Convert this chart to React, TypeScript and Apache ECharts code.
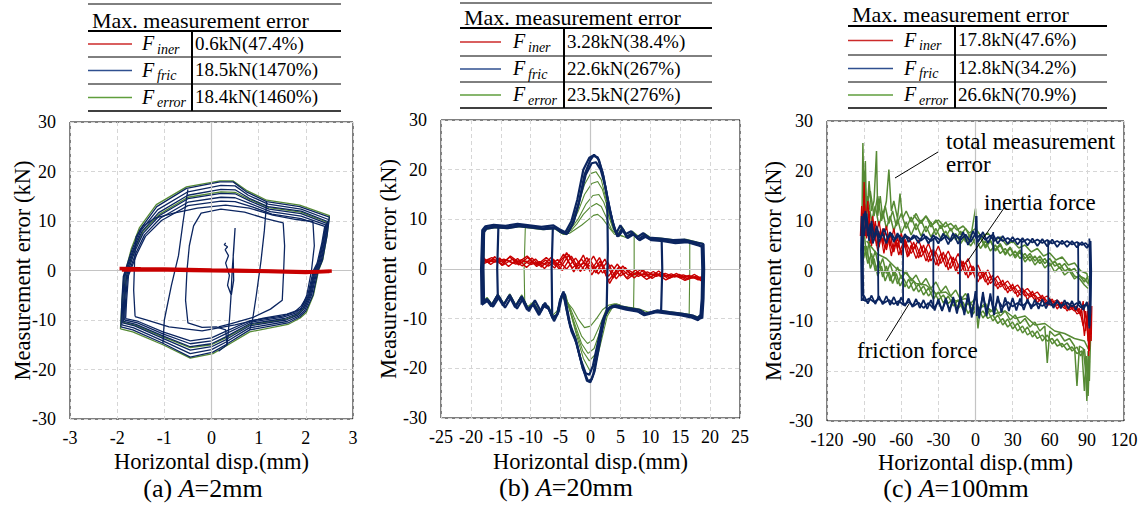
import React, { useEffect, useRef } from 'react';
import * as echarts from 'echarts';

const FONT = 'Liberation Serif';
const BLUE = '#0b2560';
const GREEN = '#568a34';
const RED = '#c80000';

// ---------------- Panel (a) A=2mm ----------------
const aFric1 = [[-1.92,-11.4],[-1.9,-6],[-1.87,-1.2],[-1.69,4.1],[-1.52,8.2],[-1.16,12.9],[-0.53,16.6],[0.18,17.9],[0.46,17.9],[0.74,15.9],[1.17,13.9],[1.87,12.9],[2.5,10.8],[2.45,7],[2.35,2],[2.26,0],[2.15,-5],[2.0,-8.2],[1.87,-9.4],[1.62,-10.6],[0.81,-12],[0.3,-15],[0.03,-16.5],[-0.45,-17.5],[-1.03,-14.7],[-1.67,-12],[-1.92,-11.4]];
const aFric2 = [[-1.9,-11],[-1.88,-6],[-1.85,-1],[-1.67,4],[-1.5,8],[-1.14,12.3],[-0.5,15.9],[0.2,17.2],[0.5,17.1],[0.78,15.2],[1.2,13.4],[1.9,12.4],[2.48,10.3],[2.42,6.5],[2.32,1.5],[2.24,0],[2.12,-5],[1.98,-8],[1.85,-9.2],[1.6,-10.3],[0.8,-11.6],[0.3,-14.5],[0,-16],[-0.45,-16.8],[-1.03,-14.2],[-1.65,-11.6],[-1.9,-11]];
const aFric3 = [[-1.88,-10.6],[-1.86,-6],[-1.83,-1],[-1.65,4],[-1.48,7.8],[-1.12,11.7],[-0.5,15.2],[0.2,16.4],[0.5,16.3],[0.8,14.6],[1.2,12.9],[1.9,12],[2.46,9.9],[2.4,6],[2.3,1.5],[2.22,0],[2.1,-5],[1.96,-7.8],[1.83,-9],[1.58,-10],[0.8,-11.2],[0.3,-14],[0,-15.4],[-0.45,-16.1],[-1.03,-13.7],[-1.63,-11.2],[-1.88,-10.6]];
const aFric4 = [[-1.86,-10.3],[-1.84,-6],[-1.8,-1],[-1.63,3.8],[-1.45,7.5],[-1.1,11.1],[-0.5,14.5],[0.2,15.6],[0.5,15.5],[0.82,14],[1.22,12.4],[1.9,11.5],[2.44,9.5],[2.38,6],[2.28,1.5],[2.2,0],[2.08,-5],[1.94,-7.6],[1.8,-8.8],[1.55,-9.7],[0.8,-10.8],[0.3,-13.4],[0,-14.8],[-0.45,-15.4],[-1.03,-13.2],[-1.6,-10.9],[-1.86,-10.3]];
const aFric5 = [[-1.84,-10],[-1.82,-6],[-1.78,-1],[-1.6,3.6],[-1.42,7.2],[-1.08,10.6],[-0.5,13.8],[0.2,14.8],[0.5,14.7],[0.85,13.4],[1.25,11.9],[1.9,11],[2.42,9.2],[2.36,5.8],[2.26,1.5],[2.18,0],[2.06,-5],[1.92,-7.4],[1.78,-8.6],[1.52,-9.4],[0.8,-10.5],[0.3,-12.8],[0,-14.2],[-0.45,-14.8],[-1.03,-12.8],[-1.57,-10.6],[-1.84,-10]];
const aFric6 = [[-1.82,-9.7],[-1.8,-6],[-1.76,-1],[-1.58,3.4],[-1.4,6.9],[-1.06,10.1],[-0.5,13.1],[0.2,14],[0.5,13.9],[0.88,12.8],[1.28,11.4],[1.9,10.5],[2.4,8.9],[2.34,5.6],[2.24,1.5],[2.16,0],[2.04,-5],[1.9,-7.2],[1.76,-8.4],[1.5,-9.2],[0.8,-10.2],[0.3,-12.3],[0,-13.6],[-0.45,-14.2],[-1.03,-12.4],[-1.55,-10.3],[-1.82,-9.7]];
const aFricInner1 = [[0.33,-15],[0.3,-12],[0.1,-11.4],[-0.2,-11.5],[-0.5,-10.6],[-0.55,-6],[-0.52,0],[-0.47,5],[-0.38,9],[-0.22,11.6],[0.2,12.4],[0.7,11.8],[1.15,10.5],[1.52,9.6],[1.55,5],[1.53,0],[1.5,-6],[1.25,-7.8],[0.9,-9.4],[0.4,-10.8],[0.15,-11.4]];
const aFricInner2 = [[-1.62,-9.3],[-1.65,-4],[-1.63,2],[-1.6,6.8],[-1.45,9],[-1.2,10.6],[-0.8,11.6],[-0.3,12.6],[0.3,13.2],[0.8,12.6],[1.3,11.2],[1.8,10.3],[2.15,9.9],[2.18,5],[2.12,0],[2.02,-5],[1.9,-7.8],[1.6,-8.8],[1.1,-9.6],[0.5,-11],[-0.2,-12.2],[-0.9,-11.4],[-1.4,-9.9],[-1.62,-9.3]];
const aFricStart = [[0.3,5.6],[0.27,5.2],[0.34,4.8],[0.29,4.2],[0.36,3],[0.3,1.5],[0.38,-1],[0.34,-3],[0.42,-5],[0.47,-2],[0.46,3],[0.5,8.6],[0.47,4],[0.44,0.3],[0.41,-5.7],[0.38,-10],[0.33,-15],[0.15,-16.3]];
const aFricRev1 = [[-1.03,-14.7],[-1.0,-10],[-0.85,-3],[-0.7,3],[-0.6,10],[-0.5,16.4]];
const aFricRev2 = [[1.17,13.9],[1.12,8],[1.05,2],[0.95,-5],[0.87,-10],[0.81,-12]];
const aErr1 = [[-1.93,-11.8],[-1.9,-6.5],[-1.86,-1.5],[-1.7,4.4],[-1.53,8.6],[-1.17,13.3],[-0.53,16.9],[0.18,18.1],[0.46,18.1],[0.74,16.2],[1.17,14.2],[1.87,13.2],[2.5,11.1],[2.45,7.2],[2.36,2.2],[2.27,0],[2.16,-5],[2.01,-8.5],[1.88,-9.6],[1.62,-10.9],[0.81,-12.4],[0.3,-15.3],[0.03,-16.8],[-0.45,-17.7],[-1.03,-15],[-1.67,-12.4],[-1.93,-11.8]];
const aErr2 = [[-1.87,-10.5],[-1.85,-6],[-1.81,-0.8],[-1.64,4.1],[-1.46,7.8],[-1.1,11.4],[-0.5,14.8],[0.2,15.9],[0.5,15.8],[0.82,14.3],[1.22,12.7],[1.9,11.8],[2.44,9.8],[2.38,6.2],[2.28,1.8],[2.2,0.2],[2.08,-4.8],[1.94,-7.8],[1.8,-9],[1.55,-9.9],[0.8,-11],[0.3,-13.6],[0,-15],[-0.45,-15.6],[-1.03,-13.4],[-1.6,-11.1],[-1.87,-10.5]];
const aIner1 = [[-1.95,0.4],[-1.5,0.35],[-1.0,0.3],[-0.5,0.2],[0,0.1],[0.5,0.05],[1.0,-0.05],[1.5,-0.15],[2.0,-0.25],[2.5,-0.2]];
const aIner2 = [[-1.9,0.1],[-1.2,0.15],[-0.4,0.0],[0.4,-0.1],[1.2,-0.2],[2.0,-0.4],[2.55,-0.1]];

const aFricLines = [aFric1, aFric2, aFric3, aFric4, aFric5, aFric6, aFricInner1, aFricInner2, aFricStart, aFricRev1, aFricRev2];
const aErrLines = [aErr1, aErr2];
const aInerLines = [aIner1, aIner2];

// ---------------- Panel (b) A=20mm ----------------
const bFric1 = [[-18,-7],[-18.1,0],[-17.9,7.5],[-17.5,8.3],[-16,8.6],[-14,8.4],[-12,8.8],[-10,8.5],[-8,8.2],[-6,8.4],[-5,7.5],[-4,7],[-3,9],[-2,13],[-1,19],[0,22],[0.6,23],[1.4,22],[2.2,18.5],[3,13],[3.8,9],[4.5,6.5],[5.3,8.2],[6,6.5],[7,7.2],[8,6],[9,6.8],[10,6],[12,5.8],[14,5.4],[16,5.6],[18,4.9],[18.7,4.6],[18.8,0],[18.7,-6],[18.5,-9.5],[18,-10.3],[17,-9.8],[15,-9.3],[13,-9],[11,-8.7],[9,-9.3],[8,-8.6],[6,-8.2],[4,-7.6],[3,-8],[2.2,-10],[1.4,-15],[0.5,-21],[0,-22.8],[-0.6,-22.5],[-1.5,-19],[-2.5,-14],[-3.4,-11.6],[-4.1,-7.5],[-4.5,-4.5],[-5,-6],[-5.5,-9],[-6.3,-10],[-7,-8],[-7.8,-7.5],[-8.5,-9],[-9.5,-7],[-10.5,-8],[-11.5,-5.5],[-12.5,-7.5],[-13.5,-5.2],[-14.5,-7.2],[-15.5,-5.2],[-16.5,-7.3],[-17.3,-6],[-18,-7]];
const bFric2 = [[-18.2,-7.2],[-18.3,0],[-18.1,7.8],[-17.6,8.6],[-16.2,8.9],[-14.2,8.7],[-12.2,9.1],[-10.2,8.8],[-8.2,8.5],[-6.2,8.8],[-5.2,8],[-4.2,7.4],[-3.2,9.6],[-2.2,14],[-1.2,20],[-0.2,22.4],[0.4,22.8],[1.2,22.5],[2,19.5],[2.8,14.5],[3.6,10],[4.3,7.2],[5,8.8],[5.8,7],[6.8,7.6],[7.8,6.4],[8.8,7.2],[9.8,6.3],[11.8,6.1],[13.8,5.8],[15.8,5.9],[17.8,5.3],[18.9,5],[19,0],[18.9,-6],[18.7,-9.8],[18.2,-10],[17.2,-9.4],[15.2,-9],[13.2,-8.7],[11.2,-8.3],[9.2,-9],[8.2,-8.2],[6.2,-7.8],[4.2,-7.3],[3.2,-7.7],[2.4,-9.5],[1.6,-14.5],[0.7,-20.5],[0.2,-22.2],[-0.4,-22.6],[-1.3,-20],[-2.3,-15],[-3.2,-12.5],[-3.9,-8],[-4.3,-5],[-4.8,-5.5],[-5.3,-8.5],[-6.1,-10.5],[-6.8,-8.5],[-7.6,-6.8],[-8.3,-8.5],[-9.3,-6.3],[-10.3,-8.5],[-11.3,-6],[-12.3,-8],[-13.3,-5.8],[-14.3,-7.8],[-15.3,-5.6],[-16.3,-7.6],[-17.1,-6.3],[-18.2,-7.2]];
const bFric3 = [[-17.8,-6.6],[-17.9,0],[-17.8,7.4],[-17.4,8.1],[-15.8,8.4],[-13.8,8.2],[-11.8,8.6],[-9.8,8.3],[-7.8,8],[-5.8,8.2],[-4.8,7.3],[-3.8,7.2],[-2.8,9.5],[-1.8,14],[-0.8,19],[0.2,21.3],[0.9,21.5],[1.7,20],[2.5,16.5],[3.3,11.5],[4,8],[4.7,6.6],[5.5,7.9],[6.2,6.2],[7.2,7],[8.2,5.8],[9.2,6.5],[10.2,5.8],[12.2,5.6],[14.2,5.2],[16.2,5.4],[18.2,4.7],[18.6,4.4],[18.7,0],[18.6,-6],[18.4,-9.2],[17.8,-10],[16.8,-9.6],[14.8,-9.1],[12.8,-8.8],[10.8,-8.5],[8.8,-9.1],[7.8,-8.4],[5.8,-8],[3.8,-7.4],[2.8,-8.2],[2,-10.5],[1.2,-15],[0.4,-19.5],[-0.2,-21.3],[-0.8,-21],[-1.7,-18],[-2.7,-13.5],[-3.6,-10.5],[-4.2,-7],[-4.6,-4.8],[-5.1,-6.3],[-5.6,-9.3],[-6.4,-9.6],[-7.1,-7.6],[-7.9,-7.2],[-8.6,-9.3],[-9.6,-7.2],[-10.6,-8.2],[-11.6,-5.7],[-12.6,-7.7],[-13.6,-5.4],[-14.6,-7.4],[-15.6,-5.4],[-16.6,-7.5],[-17.4,-6.2],[-17.8,-6.6]];
const bFricRev1 = [[-15.5,-5.4],[-15.6,0],[-15.4,8.6]];
const bFricRev2 = [[-6.4,-9.8],[-6.5,0],[-6.3,8.2]];
const bFricRev3 = [[2.8,13.5],[2.9,4],[2.8,-2],[2.7,-8.5]];
const bFricRev4 = [[11.9,5.8],[12,0],[11.8,-8.8]];

const bErrTop1 = [[-5.5,7.8],[-4.5,7],[-3.5,7.2],[-2.5,8],[-1.5,8.8],[-0.5,9.8],[0.5,10.8],[1.2,11],[2,10.2],[3,8.5],[4,7],[5,6.8],[6,6.3]];
const bErrTop2 = [[-5.5,7.8],[-4.5,7],[-3.2,7.8],[-2.2,9.2],[-1.2,11],[0,12.5],[1,13.2],[1.8,12.6],[2.6,10.5],[3.5,8],[4.5,6.8],[5.5,6.6]];
const bErrTop3 = [[-4.5,7],[-3.2,8.2],[-2,10.2],[-0.8,13],[0.4,14.8],[1.4,15],[2.2,13.5],[3,10.8],[3.8,8],[4.8,6.5]];
const bErrTop4 = [[-4.5,7],[-3.3,8.5],[-2.1,11.5],[-1,15],[0.2,17.2],[1.2,17.6],[2,16],[2.8,12.5],[3.6,9],[4.5,6.8]];
const bErrTop5 = [[-4.5,7],[-3.4,8.8],[-2.2,12.5],[-1,17],[0,19.2],[0.9,19.6],[1.8,18],[2.6,14],[3.4,10],[4.3,7]];
const bErrBot1 = [[-5,-5.5],[-4,-6.5],[-3,-8],[-2,-10.2],[-1,-11.8],[0,-11.5],[1,-10],[2,-8.2],[3,-7.3],[4,-7],[5,-7.2]];
const bErrBot2 = [[-4.5,-5],[-3.5,-7.5],[-2.5,-10.5],[-1.5,-13.5],[-0.5,-15],[0.5,-14.2],[1.5,-11.5],[2.5,-8.5],[3.5,-7.3],[4.5,-7]];
const bErrBot3 = [[-4.4,-5],[-3.5,-8],[-2.5,-11.5],[-1.5,-15],[-0.4,-17],[0.6,-16],[1.6,-12.5],[2.6,-9],[3.6,-7.5]];
const bErrBot4 = [[-4.3,-5],[-3.4,-8.5],[-2.4,-12.5],[-1.3,-16.5],[-0.2,-18.5],[0.8,-17.2],[1.8,-13],[2.7,-9.2],[3.6,-7.6]];
const bErrBot5 = [[-4.2,-5],[-3.3,-9],[-2.3,-13.5],[-1.2,-18],[-0.1,-20.5],[0.9,-19],[1.9,-14],[2.8,-9.5],[3.7,-7.7]];
const bErrFlat1 = [[-17.8,-6.2],[-17.9,0],[-17.7,7.9],[-16,8.3],[-14,8.1],[-12,8.5],[-10,8.2],[-8,7.9],[-6,8.1],[-5,7.3],[-4.5,7]];
const bErrFlat2 = [[4.5,6.9],[5.3,8.5],[6,7],[7,7.6],[8,6.6],[9,7.2],[10,6.4],[12,6.2],[14,5.9],[16,6],[18,5.4],[18.8,5.2],[18.9,0],[18.7,-9],[18,-9.6],[16,-9],[14,-8.7],[12,-8.4],[10,-8.8],[8,-8],[6,-7.6],[4,-7.2]];
const bErrFlat3 = [[-4.5,-5],[-5,-6.3],[-5.6,-8.5],[-6.3,-9.3],[-7,-7.5],[-7.8,-7],[-8.5,-8.6],[-9.5,-6.6],[-10.5,-7.6],[-11.5,-5.2],[-12.5,-7.2],[-13.5,-5],[-14.5,-6.9],[-15.5,-5],[-16.5,-7],[-17.3,-5.7],[-18,-6.5]];
const bErrRev1 = [[-11,-6.5],[-11.1,0],[-10.9,8.4]];
const bErrRev2 = [[7.3,6.8],[7.3,0],[7.2,-8.2]];
const bErrRev3 = [[16.6,5.8],[16.6,0],[16.5,-9.2]];

const bIner1 = [[-18,1.5],[-16.5,2.3],[-15,1.0],[-13.5,2.4],[-12,0.8],[-10.5,2.3],[-9,0.5],[-7.5,1.8],[-6,0.2],[-4.5,3.0],[-3,0.2],[-1.5,2.0],[0,-0.5],[1.5,2.3],[3,-1.5],[4.5,1.0],[6,-1.8],[7.5,-0.2],[9,-1.6],[10.5,-0.5],[12,-1.7],[13.5,-1.0],[15,-1.8],[16.5,-1.3],[18,-2.2],[18.7,-1.8]];
const bIner2 = [[-18,2.2],[-16.7,0.9],[-15.2,2.2],[-13.7,0.5],[-12.2,2.1],[-10.7,0.3],[-9.2,2.0],[-7.7,0.1],[-6.2,2.0],[-4.7,-0.3],[-3.2,2.6],[-1.7,-0.5],[-0.2,2.1],[1.3,-1.0],[2.8,1.5],[4.3,-2.0],[5.8,0.3],[7.3,-1.8],[8.8,-0.2],[10.3,-1.9],[11.8,-0.7],[13.3,-1.8],[14.8,-1.1],[16.3,-2.0],[17.8,-1.4],[18.7,-2.3]];
const bIner3 = [[-18,1.2],[-17,1.9],[-15.5,1.4],[-14,1.8],[-12.5,1.0],[-11,1.6],[-9.5,1.2],[-8,1.0],[-6.5,1.4],[-5,0.8],[-4,3.3],[-2.5,0.5],[-1,1.2],[0.5,0.2],[1.8,1.0],[3.2,-2.9],[4.8,0.5],[6.3,-1.2],[7.8,-0.9],[9.3,-1.2],[10.8,-1.0],[12.3,-1.3],[13.8,-1.4],[15.3,-1.5],[16.8,-1.6],[18.5,-1.9]];
const bIner4 = [[-18,1.8],[-16,1.4],[-14.5,2.0],[-13,1.2],[-11.5,1.9],[-10,0.9],[-8.5,1.5],[-7,0.6],[-5.5,1.9],[-4,0.0],[-2.5,2.2],[-1,-0.3],[0.5,2.6],[2,-0.8],[3.5,0.8],[5,-1.4],[6.5,-0.3],[8,-1.5],[9.5,-0.6],[11,-1.5],[12.5,-0.9],[14,-1.6],[15.5,-1.2],[17,-1.8],[18.7,-1.6]];
const bIner5 = [[-18,2.4],[-17,1.2],[-16,2.5],[-14.8,0.7],[-13.4,2.6],[-12,1.4],[-10.6,2.6],[-9,0.8],[-7.4,2.3],[-5.8,0.6],[-4.2,2.8],[-2.8,-0.6],[-1.2,2.8],[0.2,-1.2],[1.6,1.6],[3,-2.4],[4.6,0.2],[6.2,-2],[7.8,-0.6],[9.4,-2.1],[11,-0.9],[12.6,-2.2],[14.2,-1.3],[15.8,-2.3],[17.4,-1.6],[18.7,-2.5]];
const bIner6 = [[-18,1.0],[-16.2,2.0],[-14.6,0.8],[-13,2.0],[-11.4,0.6],[-9.8,2.2],[-8.2,0.4],[-6.6,2.3],[-5.2,-0.1],[-3.6,2.9],[-2.2,-0.2],[-0.6,2.3],[0.9,-0.8],[2.4,2.0],[3.8,-1.8],[5.4,0.6],[6.9,-1.4],[8.4,-0.1],[9.9,-1.8],[11.4,-0.4],[12.9,-1.9],[14.4,-0.9],[15.9,-2.1],[17.4,-1.1],[18.6,-2.1]];

const bFricLines = [bFric3, bFric2, bFric1, bFricRev1, bFricRev2, bFricRev3, bFricRev4];
const bErrLines = [bErrFlat1, bErrFlat2, bErrFlat3, bErrTop1, bErrTop2, bErrTop3, bErrTop4, bErrTop5, bErrBot1, bErrBot2, bErrBot3, bErrBot4, bErrBot5, bErrRev1, bErrRev2, bErrRev3];
const bInerLines = [bIner1, bIner2, bIner3, bIner4, bIner5, bIner6];

// ---------------- Panel (c) A=100mm ----------------
const cFric1 = [[-92,-6],[-92.5,4],[-92,11],[-90,7],[-88,11.5],[-86,6],[-84,10],[-82,6.5],[-80,9],[-77,6.5],[-74,8.5],[-71,6.5],[-68,7.5],[-65,6.3],[-62,7.2],[-59,6.2],[-56,7],[-52,6.3],[-48,7],[-44,6.1],[-40,6.9],[-36,6],[-32,6.8],[-28,6.1],[-24,7],[-20,6],[-16,7.2],[-12,6.2],[-8,7.3],[-4,5.8],[0,7.5],[0.5,11],[1,6.5],[4,7.3],[8,6.2],[12,7.1],[15,6],[18,6.8],[22,6],[26,6.6],[30,5.9],[34,6.5],[38,5.8],[42,6.4],[46,5.7],[50,6.3],[54,5.6],[58,6.2],[62,5.5],[66,6],[70,5.4],[74,6],[78,5.3],[82,5.8],[86,5.2],[89,5.6],[92,4.8],[93,6],[93.5,0],[93,-8],[92,-11.5],[91,-7],[88,-6.8],[85,-7.3],[82,-6.4],[78,-7.1],[74,-6.3],[70,-7],[66,-6.2],[62,-6.9],[58,-6.3],[54,-7],[50,-6.4],[46,-7.1],[42,-6.2],[38,-7],[34,-6.4],[30,-7.1],[26,-6.2],[22,-7.3],[18,-5.8],[15,-7.8],[12,-5.2],[9,-8.2],[6,-5],[3,-8.5],[0,-4.8],[-3,-8.6],[-6,-5.2],[-9,-8.2],[-12,-5.5],[-15,-7.8],[-18,-5.8],[-21,-7.7],[-24,-6],[-27,-7.8],[-30,-6.2],[-34,-7.5],[-38,-6.4],[-42,-7.4],[-46,-6.3],[-50,-7],[-54,-6.2],[-58,-6.8],[-62,-6],[-66,-6.6],[-70,-5.8],[-74,-6.4],[-78,-5.6],[-82,-6.2],[-86,-5.5],[-89,-6],[-92,-5.5],[-92,-6]];
const cFric2 = [[-91,-5],[-91.5,3],[-91,9],[-89,12],[-87,7],[-85,9.5],[-83,5.5],[-80,8],[-78,5.8],[-75,7.5],[-72,5.5],[-69,7.8],[-66,5.8],[-63,7.6],[-60,5.6],[-57,7.4],[-54,5.8],[-50,7.2],[-46,5.6],[-42,7.4],[-38,5.5],[-34,7.2],[-30,5.5],[-26,7.5],[-22,5.3],[-18,7.6],[-14,5.4],[-10,7.8],[-6,5.2],[-2,8],[2,5.8],[6,7.8],[10,5.6],[14,7.4],[18,5.5],[22,7],[26,5.4],[30,6.8],[34,5.3],[38,6.6],[42,5.1],[46,6.5],[50,5],[54,6.4],[58,4.9],[62,6.3],[66,4.8],[70,6.1],[74,4.8],[78,6],[82,4.7],[86,5.8],[90,4.6],[92.5,5.5],[93,-2],[92.5,-9],[90,-6.2],[87,-7.8],[84,-6],[81,-7.8],[78,-6],[75,-7.6],[72,-5.8],[69,-7.5],[66,-5.8],[63,-7.4],[60,-5.7],[57,-7.5],[54,-5.6],[51,-7.6],[48,-5.7],[45,-7.6],[42,-5.6],[39,-7.8],[36,-5.5],[33,-7.9],[30,-5.4],[27,-8],[24,-5.3],[21,-8.3],[18,-5],[15,-8.8],[12,-4.5],[9,-9],[6,-4.2],[3,-9.5],[0,-4],[-3,-9.3],[-6,-4.5],[-9,-8.8],[-12,-5],[-15,-8.5],[-18,-5.2],[-21,-8.2],[-24,-5.4],[-27,-8],[-30,-5.6],[-33,-7.9],[-36,-5.8],[-39,-7.6],[-42,-5.8],[-45,-7.4],[-48,-5.6],[-51,-7.2],[-54,-5.5],[-57,-7],[-60,-5.3],[-63,-6.9],[-66,-5.2],[-69,-6.8],[-72,-5],[-75,-6.7],[-78,-5],[-81,-6.6],[-84,-4.9],[-87,-6.5],[-90,-5],[-91,-5]];
const cFricRev1 = [[-78.5,-5.8],[-78.7,0],[-78.5,7.5]];
const cFricRev2 = [[-58.5,-6.3],[-58.6,0],[-58.4,6.8]];
const cFricRev3 = [[-34,-7.2],[-34.1,0],[-33.9,6.6]];
const cFricRev4 = [[-12.5,-6.5],[-12.6,0],[-12.4,7]];
const cFricRev5 = [[1,-9],[1.1,0],[0.9,11]];
const cFricRev6 = [[14.4,-7.5],[14.5,0],[14.3,7.8]];
const cFricRev7 = [[37.3,-7],[37.4,0],[37.2,6.3]];
const cFricRev8 = [[58.8,-6.6],[58.9,0],[58.7,6]];
const cFricRev9 = [[83,-7],[83.1,0],[82.9,5.8]];
const cFricRev10 = [[-90.5,-6],[-91,0],[-90.5,11.5]];
const cFricRev11 = [[92,-11],[92.5,0],[92,6.5]];

const cIner1 = [[-93,7],[-92,13],[-91,8],[-90,17.8],[-89,9],[-87,14],[-85,7],[-83,11],[-81,6],[-78,10],[-75,5.5],[-72,9],[-69,5],[-66,8.5],[-63,4.5],[-60,7.5],[-57,4.8],[-54,6.8],[-50,4.5],[-46,6.2],[-42,3.5],[-38,5.5],[-34,2.8],[-30,5],[-26,2.2],[-22,4],[-18,1.5],[-14,3.5],[-10,0.8],[-6,2.5],[-2,-0.2],[2,1.2],[6,-1.2],[10,0.2],[14,-2],[18,-1],[22,-2.8],[26,-2],[30,-3.5],[34,-2.8],[38,-4.2],[42,-3.5],[46,-4.8],[50,-4.2],[54,-5.5],[58,-5],[62,-6.2],[66,-5.8],[70,-6.8],[74,-6.4],[78,-7.4],[82,-7],[85,-9],[87,-6],[89,-12],[90.5,-8],[91.5,-17],[92.5,-10],[93.5,-14],[94,-7]];
const cIner2 = [[-92,9],[-90,12],[-88,6.5],[-86,10.5],[-84,6],[-82,9],[-80,5],[-77,8],[-74,3.5],[-71,7.5],[-68,3],[-65,6.5],[-62,3.2],[-58,6],[-55,2.8],[-52,5.2],[-48,2.5],[-44,5],[-40,2],[-36,4.2],[-32,1.2],[-28,3.5],[-24,0.8],[-20,3],[-16,0],[-12,2],[-8,-0.8],[-4,1.2],[0,-1.5],[4,0],[8,-2.2],[12,-1],[16,-3],[20,-2.2],[24,-3.8],[28,-3],[32,-4.5],[36,-3.8],[40,-5],[44,-4.5],[48,-5.8],[52,-5.2],[56,-6.5],[60,-6],[64,-7],[68,-6.6],[72,-7.5],[76,-7.2],[80,-8],[84,-7.5],[87,-11],[89,-8],[91,-14],[93,-9]];
const cIner3 = [[-91,11],[-89,7],[-87,9.5],[-85,5.5],[-82,8.5],[-79,4],[-76,7],[-73,4.5],[-70,6.8],[-67,4],[-64,6],[-60,3.8],[-56,5.6],[-52,3.5],[-48,5.2],[-44,2.8],[-40,4.5],[-36,2],[-32,3.8],[-28,1.5],[-24,3.2],[-20,0.5],[-16,2.5],[-12,-0.2],[-8,1.8],[-4,-0.8],[0,0.8],[4,-1.6],[8,-0.3],[12,-2.5],[16,-1.5],[20,-3.2],[24,-2.5],[28,-4],[32,-3.3],[36,-4.8],[40,-4],[44,-5.2],[48,-4.8],[52,-6],[56,-5.5],[60,-6.8],[64,-6.2],[68,-7.2],[72,-6.8],[76,-7.8],[80,-7.2],[84,-8.5],[87,-7],[90,-10],[92,-6]];
const cIner4 = [[-90,14],[-88,8],[-86,12],[-84,5],[-81,10],[-78,4.8],[-75,8.5],[-72,4.2],[-69,7.4],[-66,3.8],[-63,6.8],[-60,3.2],[-57,6.4],[-54,3],[-50,5.8],[-46,2.6],[-42,5.2],[-38,1.8],[-34,4.4],[-30,1],[-26,3.8],[-22,0.2],[-18,2.8],[-14,-0.6],[-10,2],[-6,-1.4],[-2,1],[2,-2.2],[6,0],[10,-2.8],[14,-0.8],[18,-3.6],[22,-1.8],[26,-4.4],[30,-2.6],[34,-5.2],[38,-3.4],[42,-5.8],[46,-4],[50,-6.4],[54,-4.8],[58,-7],[62,-5.6],[66,-7.6],[70,-6.2],[74,-8],[78,-6.8],[82,-8.6],[86,-8],[88,-13],[90,-9],[92,-16],[93,-11]];

const cErrUp1 = [[-92,5],[-91,25.6],[-90,12],[-89,22],[-88,10],[-86,18],[-84,12],[-82,14],[-80,24],[-79,11],[-77,15],[-75,10.5],[-72,14],[-70,20.3],[-68,12],[-66,14],[-63,10.5],[-61,15.5],[-59,10.5],[-56,12],[-52,9.8],[-48,11.5],[-44,9.5],[-40,11],[-36,8.8],[-32,10.2],[-28,8.5],[-24,9.8],[-20,8],[-16,9.2],[-12,7.2],[-8,8.5],[-4,6.5],[0,12.5],[1,7],[4,7],[8,5],[12,6.2],[16,4.2],[20,5.5],[24,3.5],[28,4.8],[32,3],[36,4.2],[40,2.5],[44,3.5],[48,2],[52,3],[56,1.5],[60,2.5],[64,1],[68,1.5],[72,0],[76,0.5],[80,-1],[84,-1.5],[88,-2.8],[91,-3.5]];
const cErrUp2 = [[-91,18],[-89,12],[-87,15],[-84,10],[-81,13],[-78,9],[-75,12],[-72,8.5],[-69,11],[-66,8],[-63,10.5],[-60,7.5],[-56,9.8],[-52,7.2],[-48,9.5],[-44,7],[-40,9],[-36,6.8],[-32,8.5],[-28,6.5],[-24,8],[-20,6],[-16,7.5],[-12,5.5],[-8,7],[-4,5],[0,6.5],[4,4.5],[8,6],[12,4],[16,5.2],[20,3.5],[24,4.5],[28,3],[32,4],[36,2.5],[40,3.5],[44,2],[48,3],[52,1.5],[56,2.5],[60,1],[64,2],[68,0.5],[72,1.5],[76,0],[80,0.5],[84,-1],[88,-1.5],[91,-2.5]];
const cErrUp3 = [[-50,11.2],[-45,9.6],[-40,11],[-35,9.2],[-30,10.2],[-25,8.8],[-20,9.5],[-15,8.2],[-10,9],[-5,7.6],[0,8.5],[5,6.8],[10,7.6],[15,6],[20,6.8],[25,5.2],[30,6],[35,4.6],[40,5.2],[45,3.8],[50,4.5],[55,3],[60,3.6],[65,2.2],[70,2.8],[75,1.2],[80,1.6],[85,0],[90,-0.5],[92,-3]];
const cErrUp4 = [[-90,20],[-88,13],[-85,16],[-82,11],[-79,15],[-76,10],[-73,13],[-70,9.5],[-67,12],[-64,9],[-60,11.5],[-56,8.5],[-52,10.8],[-48,8.2],[-44,10.2],[-40,7.8],[-36,9.8],[-32,7.2],[-28,9.2],[-24,6.8],[-20,8.6],[-16,6.2],[-12,8],[-8,5.8],[-4,7.4],[0,5.2],[4,6.6],[8,4.6],[12,6],[16,4],[20,5.2],[24,3.2],[28,4.6],[32,2.6],[36,3.8],[40,1.8],[44,3],[48,1.2],[52,2.4],[56,0.6],[60,1.6],[64,-0.2],[68,0.8],[72,-0.8],[76,0],[80,-1.6],[84,-0.8],[88,-2.2],[91,-1]];
const cErrLow1 = [[-92,4],[-90,8],[-88,2.5],[-86,6],[-84,1.5],[-81,4],[-78,0.5],[-75,2.5],[-72,-0.5],[-69,1.5],[-66,-1],[-63,0.8],[-60,-1.5],[-56,0],[-52,-2],[-48,-0.8],[-44,-2.8],[-40,-1.5],[-36,-3.5],[-32,-2.2],[-28,-4.2],[-24,-3],[-20,-5],[-16,-3.8],[-12,-5.8],[-8,-4.5],[-4,-6.5],[0,-5.5],[2,-11.5],[4,-7.2],[8,-6.5],[12,-8.2],[16,-7.2],[20,-9],[24,-8],[28,-9.8],[32,-8.8],[36,-10.5],[40,-9.5],[44,-11.2],[48,-10.2],[52,-12],[56,-11],[58,-18.4],[60,-12],[64,-13],[68,-12.5],[72,-14],[76,-13.5],[80,-15],[82,-23],[84,-15],[87,-15.5],[89,-20],[90,-26],[91,-16],[92,-22],[93,-13]];
const cErrLow2 = [[-91,2],[-88,5],[-85,0.5],[-82,2.5],[-79,-1],[-76,1],[-73,-2],[-70,0],[-67,-2.5],[-64,-0.5],[-61,-3],[-58,-1.5],[-54,-3.5],[-50,-2],[-46,-4.2],[-42,-3],[-38,-5],[-34,-3.8],[-30,-5.8],[-26,-4.8],[-22,-6.5],[-18,-5.5],[-14,-7.5],[-10,-6.2],[-6,-8.5],[-2,-7],[2,-9],[6,-8],[10,-9.5],[14,-8.8],[18,-10.5],[22,-9.5],[26,-11.2],[30,-10.2],[34,-12],[38,-11],[42,-12.8],[46,-12],[50,-13.5],[54,-12.8],[58,-14],[62,-13.5],[66,-15],[70,-14.5],[74,-15.8],[78,-15.2],[82,-16.5],[86,-16],[88,-24],[89.5,-17],[91,-25],[92,-18]];
const cErrLow3 = [[-88,6],[-80,3.5],[-72,2.5],[-64,0.5],[-56,-0.5],[-48,-2.5],[-40,-2.8],[-32,-4.5],[-24,-4.2],[-16,-6],[-8,-5.5],[0,-7.5],[8,-7],[16,-8.5],[24,-8],[32,-9.5],[40,-9],[48,-10.8],[56,-10.5],[64,-12],[72,-12.5],[80,-13.5],[88,-14],[92,-16]];
const cErrLow4 = [[-90,5],[-87,1.5],[-84,3.5],[-81,0],[-78,2],[-75,-1.2],[-72,1],[-69,-2],[-66,0],[-63,-2.6],[-60,-0.8],[-57,-3.2],[-54,-1.6],[-50,-4],[-46,-2.6],[-42,-4.8],[-38,-3.4],[-34,-5.6],[-30,-4.2],[-26,-6.4],[-22,-5],[-18,-7],[-14,-5.8],[-10,-7.8],[-6,-6.4],[-2,-8.6],[2,-7.2],[6,-9.4],[10,-8],[14,-10],[18,-8.8],[22,-10.8],[26,-9.6],[30,-11.6],[34,-10.4],[38,-12.4],[42,-11.2],[46,-13.2],[50,-12],[54,-14],[58,-12.8],[62,-14.6],[66,-13.6],[70,-15.2],[74,-14.4],[78,-16],[82,-15.2],[85,-17],[88,-15.6],[90,-20],[92,-17]];

const cFricLines = [cFric1, cFric2, cFricRev1, cFricRev2, cFricRev3, cFricRev4, cFricRev5, cFricRev6, cFricRev7, cFricRev8, cFricRev9, cFricRev10, cFricRev11];
const cErrLines = [cErrUp1, cErrUp2, cErrUp3, cErrUp4, cErrLow1, cErrLow2, cErrLow3, cErrLow4];
const cInerLines = [cIner1, cIner2, cIner3, cIner4];

// ---------------- axes & tables ----------------
const xTicks = [
  { min: -3, max: 3, interval: 1 },
  { min: -25, max: 25, interval: 5 },
  { min: -120, max: 120, interval: 30 },
];
const yTick = { min: -30, max: 30, interval: 10 };
const xName = 'Horizontal disp.(mm)';
const yName = 'Measurement error (kN)';
const tableHeader = 'Max. measurement error';
const legendSubs = ['iner', 'fric', 'error'];
const tableA = ['0.6kN(47.4%)', '18.5kN(1470%)', '18.4kN(1460%)'];
const tableB = ['3.28kN(38.4%)', '22.6kN(267%)', '23.5kN(276%)'];
const tableC = ['17.8kN(47.6%)', '12.8kN(34.2%)', '26.6kN(70.9%)'];
const captions = [['(a) ', 'A', '=2mm'], ['(b) ', 'A', '=20mm'], ['(c) ', 'A', '=100mm']];

const grids = [
  { left: 70, top: 122, width: 283, height: 297 },
  { left: 441, top: 120, width: 299, height: 298 },
  { left: 827, top: 121, width: 297, height: 300 },
];
const yNameX = [22, 388, 773];
const xNameY = [461, 461, 462];

function ln(data: number[][], idx: number, color: string, width: number, z: number) {
  return {
    type: 'line', xAxisIndex: idx, yAxisIndex: idx, data, showSymbol: false, symbol: 'none',
    lineStyle: { color, width }, z, silent: true, animation: false, clip: true,
  };
}

function zeroLines(idx: number) {
  return {
    type: 'line', xAxisIndex: idx, yAxisIndex: idx, data: [[0, 0]], showSymbol: false, symbol: 'none',
    lineStyle: { opacity: 0 }, z: 1, silent: true,
    markLine: {
      silent: true, symbol: ['none', 'none'], label: { show: false }, animation: false,
      lineStyle: { color: '#c4c4c4', type: 'solid', width: 1.2 },
      data: [{ xAxis: 0 }, { yAxis: 0 }],
    },
  };
}

const LEG_COLORS = ['#cc2a2a', '#2f4f8f', '#5f9e3c'];

function txt(x: number, y: number, text: string, size: number, extra: any = {}) {
  return {
    type: 'text', x, y, silent: true, z: 10,
    style: {
      text, fontFamily: FONT, fontSize: size, fill: '#000',
      textAlign: 'left', textVerticalAlign: 'middle', align: 'left', verticalAlign: 'middle', ...extra,
    },
  };
}
function hline(x1: number, x2: number, y: number, w: number) {
  return { type: 'line', silent: true, z: 10, shape: { x1, y1: y, x2, y2: y }, style: { stroke: '#000', lineWidth: w } };
}
function vline(x: number, y1: number, y2: number, w: number) {
  return { type: 'line', silent: true, z: 10, shape: { x1: x, y1, x2: x, y2 }, style: { stroke: '#000', lineWidth: w } };
}
function seg(x1: number, y1: number, x2: number, y2: number, color: string, w: number) {
  return { type: 'line', silent: true, z: 10, shape: { x1, y1, x2, y2 }, style: { stroke: color, lineWidth: w } };
}

function table(L: { left: number; right: number; div: number; top: number | null; head: number; rows: number[]; bottom: number; headY: number; sampleR: number; fx: number }, values: string[]) {
  const els: any[] = [];
  if (L.top !== null) els.push(hline(L.left, L.right, L.top, 1));
  els.push(txt(L.left + 4, L.headY, tableHeader, 22));
  els.push(hline(L.left, L.right, L.head, 2));
  L.rows.forEach((y) => els.push(hline(L.left, L.right, y, 1)));
  els.push(hline(L.left, L.right, L.bottom, 1.5));
  els.push(vline(L.div, L.head, L.bottom, 2));
  const bounds = [L.head, ...L.rows, L.bottom];
  for (let i = 0; i < 3; i++) {
    const cy = (bounds[i] + bounds[i + 1]) / 2;
    els.push(seg(L.left, cy, L.sampleR, cy, LEG_COLORS[i], 1.6));
    els.push(txt(L.fx, cy - 1, 'F', 20, { fontStyle: 'italic' }));
    els.push(txt(L.fx + 15, cy + 5, legendSubs[i], 14, { fontStyle: 'italic' }));
    els.push(txt(L.div + 3, cy - 1, values[i], 19));
  }
  return els;
}

const tableEls = [
  ...table({ left: 88, right: 341, div: 192, top: 4, head: 31, rows: [57, 84], bottom: 111, headY: 20, sampleR: 132, fx: 142 }, tableA),
  ...table({ left: 460, right: 712, div: 564, top: 3, head: 28, rows: [56, 82], bottom: 108, headY: 17, sampleR: 501, fx: 513 }, tableB),
  ...table({ left: 848, right: 1107, div: 955, top: null, head: 26, rows: [55, 82], bottom: 108, headY: 14, sampleR: 893, fx: 904 }, tableC),
];

const captionPos = [[203, 488], [566, 487], [956, 488]];
const captionEls = captions.map((c, i) => ({
  type: 'text', x: captionPos[i][0], y: captionPos[i][1], silent: true, z: 10,
  style: {
    text: `{n|${c[0]}}{i|${c[1]}}{n|${c[2]}}`,
    rich: {
      n: { fontFamily: FONT, fontSize: 26, fill: '#000', color: '#000' },
      i: { fontFamily: FONT, fontSize: 26, fontStyle: 'italic', fill: '#000', color: '#000' },
    },
    fontFamily: FONT, fontSize: 26, fill: '#000',
    textAlign: 'center', textVerticalAlign: 'middle', align: 'center', verticalAlign: 'middle',
  },
}));

const axisNameEls = grids.flatMap((g, i) => [
  {
    type: 'text', x: g.left + g.width / 2, y: xNameY[i], silent: true, z: 10,
    style: { text: xName, fontFamily: FONT, fontSize: 22.5, fill: '#000', textAlign: 'center', textVerticalAlign: 'middle', align: 'center', verticalAlign: 'middle' },
  },
  {
    type: 'text', x: yNameX[i], y: g.top + g.height / 2, rotation: Math.PI / 2, silent: true, z: 10,
    style: { text: yName, fontFamily: FONT, fontSize: 22.5, fill: '#000', textAlign: 'center', textVerticalAlign: 'middle', align: 'center', verticalAlign: 'middle' },
  },
]);

const annoEls = [
  txt(946, 141, 'total measurement', 23),
  txt(946, 164, 'error', 23),
  seg(938, 152, 895, 178, '#000', 1),
  txt(984, 202, 'inertia force', 23),
  seg(1004, 208, 967, 262, '#000', 1),
  txt(857, 350, 'friction force', 23),
  seg(886, 341, 909, 304, '#000', 1),
];

const labelStyle = (margin: number) => ({ margin, fontFamily: FONT, fontSize: 18, color: '#000' });

const commonAxis = {
  type: 'value',
  axisLine: { show: false },
  axisTick: { show: false },
  splitLine: { show: true, lineStyle: { color: '#d6d6d6', type: [4, 3], width: 1 } },
};

const option: any = {
  animation: false,
  backgroundColor: '#fff',
  textStyle: { fontFamily: FONT, color: '#000' },
  grid: grids.map((g) => ({ ...g, show: true, borderColor: '#000', borderWidth: 1, backgroundColor: 'transparent' })),
  xAxis: xTicks.map((t, i) => ({ ...commonAxis, gridIndex: i, ...t, axisLabel: labelStyle(10) })),
  yAxis: [0, 1, 2].map((i) => ({ ...commonAxis, gridIndex: i, ...yTick, axisLabel: labelStyle(14) })),
  series: [
    zeroLines(0), zeroLines(1), zeroLines(2),
    ...aErrLines.map((d) => ln(d, 0, GREEN, 1.3, 3)),
    ...aFricLines.map((d) => ln(d, 0, BLUE, 1.3, 4)),
    ...aInerLines.map((d) => ln(d, 0, RED, 3.5, 5)),
    ...bErrLines.map((d) => ln(d, 1, GREEN, 1.1, 3)),
    ...bInerLines.map((d) => ln(d, 1, RED, 1.4, 4)),
    ...bFricLines.map((d) => ln(d, 1, BLUE, 2.2, 5)),
    ...cErrLines.map((d) => ln(d, 2, GREEN, 1.5, 3)),
    ...cInerLines.map((d) => ln(d, 2, RED, 1.3, 4)),
    ...cFricLines.map((d) => ln(d, 2, BLUE, 1.8, 5)),
  ],
  graphic: { elements: [...tableEls, ...captionEls, ...axisNameEls, ...annoEls] },
};

export default function App() {
  const ref = useRef<HTMLDivElement>(null);
  useEffect(() => {
    if (!ref.current) return;
    const chart = echarts.init(ref.current, null, { renderer: 'svg' });
    chart.setOption(option);
    return () => chart.dispose();
  }, []);
  return (
    <div
      ref={ref}
      style={{ position: 'absolute', left: 0, top: 0, width: 1145, height: 508, background: '#fff' }}
    />
  );
}
